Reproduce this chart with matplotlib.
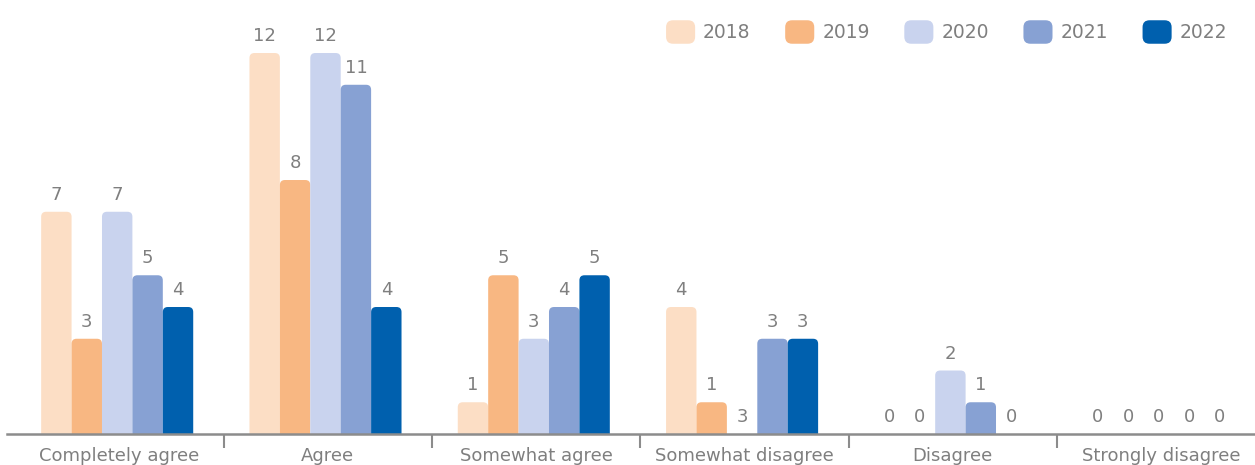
import matplotlib
matplotlib.use("Agg")
import matplotlib.pyplot as plt
from matplotlib.patches import FancyBboxPatch
from matplotlib.legend_handler import HandlerPatch

categories = ["Completely agree", "Agree", "Somewhat agree", "Somewhat disagree", "Disagree", "Strongly disagree"]
years = ["2018", "2019", "2020", "2021", "2022"]
values = {
    "2018": [7, 12, 1, 4, 0, 0],
    "2019": [3, 8, 5, 1, 0, 0],
    "2020": [7, 12, 3, 0, 2, 0],
    "2021": [5, 11, 4, 3, 1, 0],
    "2022": [4, 4, 5, 3, 0, 0],
}
# labels as shown in the picture (one label differs from its bar)
labels = {
    "2018": ["7", "12", "1", "4", "0", "0"],
    "2019": ["3", "8", "5", "1", "0", "0"],
    "2020": ["7", "12", "3", "3", "2", "0"],
    "2021": ["5", "11", "4", "3", "1", "0"],
    "2022": ["4", "4", "5", "3", "0", "0"],
}
colors = ["#FCDEC5", "#F8B782", "#C9D3EE", "#87A1D3", "#0060AE"]

W, H = 1255, 465
fig = plt.figure(figsize=(W / 100, H / 100), dpi=100)
unit = 208.3
x0px = 7
base_px = 434
ax = fig.add_axes([x0px / W, 1 - base_px / H, 6.04 * unit / W, base_px / H])
xmin, xmax = -0.54, 5.5
ymax = 13.67
ax.set_xlim(xmin, xmax)
ax.set_ylim(0, ymax)

bw = 0.146
gray = "#7F7F7F"
ypx = base_px / ymax
rx = 5 / unit
ry = 5 / ypx
for i, y in enumerate(years):
    for j, v in enumerate(values[y]):
        xc = j + (i - 2) * bw - 0.011
        if v > 0:
            p = FancyBboxPatch((xc - bw / 2 + rx, -1 + ry), bw - 2 * rx, v + 1 - 2 * ry,
                               boxstyle=f"round,pad={rx},rounding_size={rx}",
                               mutation_aspect=ry / rx,
                               facecolor=colors[i], edgecolor="none", clip_on=True)
            ax.add_patch(p)
        ax.text(xc, v + 8 / ypx, labels[y][j], ha="center", va="bottom",
                fontsize=13, color=gray)

for s in ["top", "right", "left"]:
    ax.spines[s].set_visible(False)
ax.spines["bottom"].set_color("#8C8C8C")
ax.spines["bottom"].set_linewidth(1.8)
ax.set_yticks([])
ax.set_xticks(range(6))
ax.set_xticklabels(categories, fontsize=13, color=gray)
ax.tick_params(axis="x", which="major", length=0, pad=9)
ax.set_xticks([0.5, 1.5, 2.5, 3.5, 4.5], minor=True)
ax.tick_params(axis="x", which="minor", length=10, width=1.5, color="#8C8C8C")


def make_round(legend, orig_handle, xdescent, ydescent, width, height, fontsize):
    r = 5
    return FancyBboxPatch((-xdescent + r, -ydescent + r), width - 2 * r, height - 2 * r,
                          boxstyle=f"round,pad={r},rounding_size={r}")


handles = [FancyBboxPatch((0, 0), 1, 1, facecolor=c, edgecolor="none") for c in colors]
fs = 13.5
leg = fig.legend(handles, years, loc="center right",
                 bbox_to_anchor=(1234.5 / W, 1 - 32 / H),
                 ncol=5, frameon=False, fontsize=fs, labelcolor=gray,
                 handlelength=1.55, handleheight=1.55, handletextpad=0.42,
                 columnspacing=1.85, borderaxespad=0, borderpad=0.4,
                 handler_map={FancyBboxPatch: HandlerPatch(patch_func=make_round)})

fig.savefig("out.png", dpi=100)
